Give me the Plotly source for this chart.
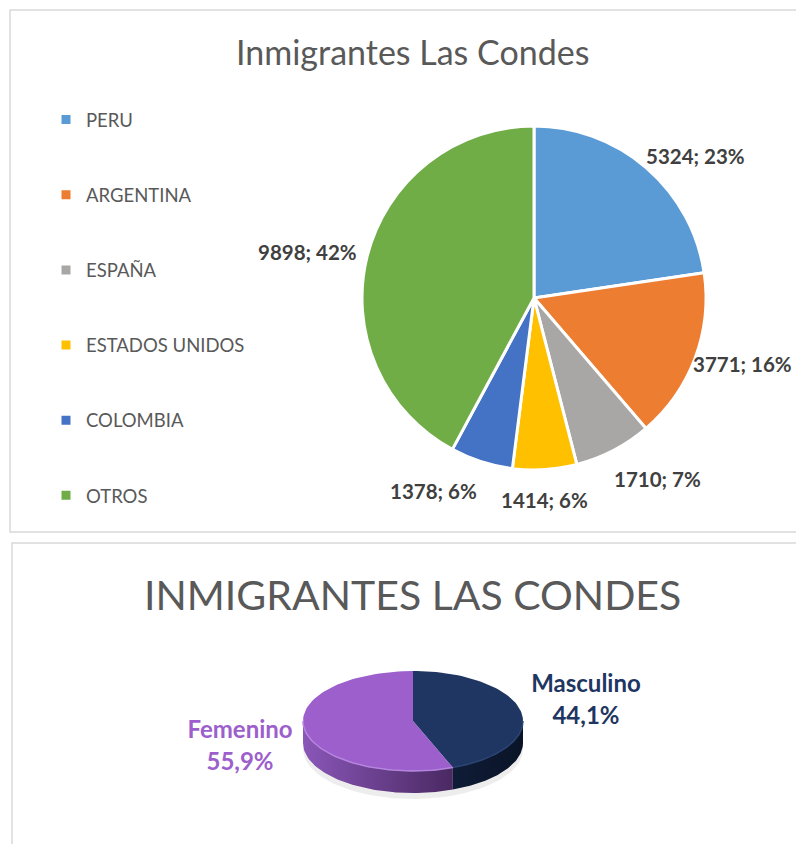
import numpy as np
import plotly.graph_objects as go

# datos grafico 1: inmigrantes por pais
paises = ["PERU", "ARGENTINA", "ESPAÑA", "ESTADOS UNIDOS", "COLOMBIA", "OTROS"]
cantidades = [5324, 3771, 1710, 1414, 1378, 9898]
colores_paises = ["#5B9BD5", "#ED7D31", "#A9A7A5", "#FFC000", "#4472C4", "#70AD47"]

# datos grafico 2: inmigrantes por sexo
sexos = ["Masculino", "Femenino"]
porcentajes_sexo = [44.1, 55.9]
colores_sexo = ["#1E3661", "#9C5FCC"]
colores_borde = ["#2A4474", "#B584DD"]
colores_lado = [["#0F1C36", "#0A1428"], ["#8A56B8", "#4A2962"]]

FONT = "Lato"
W, H = 804, 844
OFF = 8  # margen del body de la pagina


def px(x):
    return (x - OFF) / W


def py(y):
    return 1 - (y - OFF) / H


fig = go.Figure()

# grafico 1: torta plana con leyenda a la izquierda
pcx, pcy, pr = 534, 298, 172
fig.add_trace(go.Pie(
    labels=[" <br>" + p + "<br> " for p in paises],
    values=cantidades,
    sort=False,
    direction="clockwise",
    rotation=0,
    marker=dict(colors=colores_paises, line=dict(color="white", width=3)),
    textinfo="none",
    domain=dict(x=[px(pcx - pr), px(pcx + pr)], y=[py(pcy + pr), py(pcy - pr)]),
    hoverinfo="skip",
    showlegend=True,
))

annotations = []

# etiquetas "valor; porcentaje" fuera de cada porcion
tot = sum(cantidades)
acum = 0
for v in cantidades:
    th = np.radians((acum + v / 2) / tot * 360)
    acum += v
    s, c = np.sin(th), np.cos(th)
    xa = "left" if s > 0.3 else ("right" if s < -0.3 else "center")
    ya = "top" if c < -0.5 else "middle"
    rx = pr - 4 if s > 0 else pr + 8
    annotations.append(dict(
        text=f"<b>{v}; {round(v / tot * 100)}%</b>",
        x=px(pcx + rx * s), y=py(pcy - (pr + 16) * c),
        xref="paper", yref="paper", xanchor=xa, yanchor=ya, showarrow=False,
        font=dict(family=FONT, size=20.5, color="#404040")))

# grafico 2: torta "3d" dibujada como elipse
cx, cy, a, b, prof = 413 - OFF, 721 - OFF, 110, 50, 22


def punto(t, dy=0):
    t = np.radians(t)
    return cx + a * np.sin(t), cy - b * np.cos(t) + dy


# sombra suave
ts = np.linspace(0, 360, 120)
sx, sy = punto(ts, prof + 6)
fig.add_trace(go.Scatter(x=sx, y=sy, fill="toself", mode="lines", line=dict(width=0),
                         fillcolor="rgba(0,0,0,0.07)", xaxis="x2", yaxis="y2",
                         hoverinfo="skip", showlegend=False))

total = sum(porcentajes_sexo)
inicio = 0
rangos = []
for v in porcentajes_sexo:
    fin = inicio + v / total * 360
    rangos.append((inicio, fin))
    inicio = fin

# paredes laterales (solo la mitad frontal es visible)
for (t0, t1), grad in zip(rangos, colores_lado):
    lo, hi = max(t0, 90), min(t1, 270)
    if lo >= hi:
        continue
    t = np.linspace(lo, hi, 60)
    x1, y1 = punto(t)
    x2, y2 = punto(t[::-1], prof)
    fig.add_trace(go.Scatter(
        x=np.concatenate([x1, x2]), y=np.concatenate([y1, y2]),
        fill="toself", mode="lines", line=dict(width=0),
        fillgradient=dict(type="horizontal", colorscale=[[0, grad[0]], [1, grad[1]]]),
        xaxis="x2", yaxis="y2", hoverinfo="skip", showlegend=False))

# cara superior
for (t0, t1), col, borde in zip(rangos, colores_sexo, colores_borde):
    t = np.linspace(t0, t1, 80)
    x1, y1 = punto(t)
    fig.add_trace(go.Scatter(
        x=np.concatenate([[cx], x1, [cx]]), y=np.concatenate([[cy], y1, [cy]]),
        fill="toself", mode="lines", line=dict(width=0), fillcolor=col,
        xaxis="x2", yaxis="y2", hoverinfo="skip", showlegend=False))
    # brillo en el borde frontal
    lo, hi = max(t0, 90), min(t1, 270)
    if lo < hi:
        tb = np.linspace(lo, hi, 60)
        bx, by = punto(tb)
        fig.add_trace(go.Scatter(x=bx, y=by, mode="lines", line=dict(color=borde, width=1.5),
                                 xaxis="x2", yaxis="y2", hoverinfo="skip", showlegend=False))

# etiquetas de la torta 3d
for s, v, (t0, t1), col in zip(sexos, porcentajes_sexo, rangos, colores_sexo):
    tm = np.radians((t0 + t1) / 2)
    lx = cx + a * 1.6 * np.sin(tm)
    ly = cy - b * 2.5 * np.cos(tm) + 4
    txt = f"<b>{s}</b><br><b>{v:.1f}%</b>".replace(".", ",")
    fig.add_trace(go.Scatter(
        x=[lx], y=[ly], mode="text", text=[txt], textposition="middle center",
        textfont=dict(family=FONT, size=24, color=col),
        xaxis="x2", yaxis="y2", hoverinfo="skip", showlegend=False))

# marcos de los dos paneles
shapes = [
    dict(type="rect", xref="paper", yref="paper", x0=px(10), x1=1.05,
         y0=py(532), y1=py(10), line=dict(color="#D9D9D9", width=1.5)),
    dict(type="rect", xref="paper", yref="paper", x0=px(12), x1=1.05,
         y0=-0.05, y1=py(543), line=dict(color="#D9D9D9", width=1.5)),
]

annotations += [
    dict(text="Inmigrantes Las Condes", x=px(413), y=py(52), xref="paper", yref="paper",
         xanchor="center", yanchor="middle",
         showarrow=False, font=dict(family=FONT, size=34, color="#595959")),
    dict(text="INMIGRANTES LAS CONDES", x=px(413), y=py(594), xref="paper", yref="paper",
         xanchor="center", yanchor="middle",
         showarrow=False, font=dict(family=FONT, size=41, color="#595959")),
]

fig.update_layout(
    width=W, height=H,
    margin=dict(l=0, r=0, t=0, b=0),
    paper_bgcolor="white", plot_bgcolor="rgba(0,0,0,0)",
    font=dict(family=FONT, color="#595959"),
    shapes=shapes,
    annotations=annotations,
    legend=dict(x=px(46), y=py(77), xanchor="left", yanchor="top",
                font=dict(family=FONT, size=18.5, color="#595959"),
                valign="middle", itemwidth=30, bgcolor="rgba(0,0,0,0)"),
    xaxis2=dict(domain=[0, 1], range=[0, W], visible=False, fixedrange=True, anchor="y2"),
    yaxis2=dict(domain=[0, 1], range=[H, 0], visible=False, fixedrange=True, anchor="x2"),
)

fig.write_html("out.html")
